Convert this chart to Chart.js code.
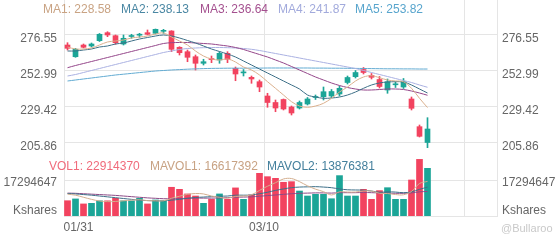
<!DOCTYPE html>
<html lang="en">
<head>
<meta charset="UTF-8" />
<title>Candles</title>
<script src="https://cdn.jsdelivr.net/npm/chart.js"></script>
<style>
  body { margin: 0; background: #fff; font-family: "Liberation Sans", Arial, sans-serif; }
  #wrap { position: relative; width: 560px; height: 240px; overflow: hidden; background: #fff; }
  canvas { position: absolute; left: 0; }
  .lg { position: absolute; font-size: 12px; line-height: 14px; white-space: nowrap; }
</style>
</head>
<body>
<div id="wrap">
  <canvas id="price" width="560" height="150" style="top:0"></canvas>
  <canvas id="vol" width="560" height="90" style="top:150px"></canvas>
  <div id="legend"></div>
  <div class="lg" style="left:501px;top:221px;color:#c9c9c9;font-size:11px">@Bullaroo</div>
</div>

<script>
  // daily candles
  const opens  = [269.54, 261.88, 269.54, 268.89, 272.36, 277.60, 275.63, 270.20, 275.11, 275.96, 277.60, 277.20, 278.51, 278.71, 268.04, 265.16, 261.88, 257.57, 260.38, 259.73, 264.11, 254.29, 251.28, 248.40, 245.52, 236.16, 231.90, 233.87, 228.96, 228.30, 230.92, 235.18, 235.70, 236.16, 237.47, 245.00, 248.80, 253.51, 249.58, 246.96, 240.09, 243.49, 242.05, 234.20, 216.07, 205.72];
  const highs  = [271.05, 267.38, 270.20, 270.85, 277.07, 278.25, 276.09, 276.09, 276.55, 277.20, 279.37, 280.02, 279.82, 278.90, 268.43, 266.27, 263.00, 260.19, 262.34, 265.16, 265.16, 255.14, 253.51, 249.25, 246.63, 237.93, 233.54, 234.20, 229.61, 232.89, 235.18, 236.82, 242.05, 240.42, 242.70, 249.25, 252.85, 254.82, 250.89, 248.93, 247.29, 245.52, 247.62, 235.51, 217.18, 221.96];
  const lows   = [266.27, 261.49, 267.58, 268.23, 271.83, 274.98, 270.00, 269.54, 273.93, 274.58, 276.09, 276.75, 277.20, 265.16, 263.00, 258.61, 253.18, 256.45, 257.96, 257.57, 257.96, 246.17, 249.25, 244.47, 238.97, 228.76, 225.88, 227.00, 223.72, 227.65, 230.27, 233.87, 233.54, 235.18, 236.16, 244.02, 247.94, 250.56, 247.29, 241.40, 237.93, 241.72, 241.07, 227.00, 209.32, 202.32];
  const closes = [267.38, 266.73, 268.04, 270.20, 276.55, 276.09, 271.05, 273.93, 275.43, 276.29, 276.55, 279.82, 278.84, 266.73, 264.50, 261.49, 257.57, 258.61, 259.99, 264.11, 260.19, 250.56, 251.67, 247.29, 242.05, 231.90, 228.30, 227.65, 225.03, 231.90, 234.20, 235.51, 238.97, 239.10, 241.20, 248.27, 251.54, 251.54, 248.40, 242.38, 245.52, 243.82, 245.52, 228.11, 209.78, 214.56];

  const ma1 = [268.23, 266.92, 266.92, 267.58, 269.54, 271.51, 272.16, 272.82, 274.13, 274.78, 275.43, 276.74, 277.40, 274.78, 272.16, 269.54, 265.62, 262.34, 260.38, 259.72, 260.38, 258.41, 255.14, 253.18, 249.91, 245.52, 241.20, 236.81, 232.43, 229.61, 228.76, 229.61, 231.38, 234.65, 238.78, 242.05, 245.98, 248.60, 249.45, 248.14, 246.63, 245.98, 245.52, 241.20, 234.65, 228.58];
  const ma2 = [265.62, 265.62, 266.27, 266.92, 268.23, 268.89, 270.20, 270.85, 272.16, 273.47, 274.45, 275.43, 276.09, 275.43, 274.13, 272.49, 270.85, 268.89, 266.92, 265.29, 263.65, 261.69, 259.07, 256.45, 253.83, 251.21, 248.60, 245.98, 243.36, 240.74, 236.81, 235.50, 234.65, 234.85, 235.50, 236.81, 238.78, 241.20, 243.36, 244.67, 245.32, 245.52, 245.32, 243.36, 240.74, 238.13];
  const ma3 = [254.68, 256.12, 257.43, 258.74, 260.05, 261.36, 262.67, 263.98, 265.29, 266.60, 267.91, 269.22, 270.53, 271.05, 271.18, 271.18, 270.85, 270.53, 270.20, 269.54, 268.89, 267.91, 266.60, 264.96, 263.32, 261.69, 259.72, 257.76, 255.47, 253.18, 250.89, 248.60, 246.63, 244.67, 243.03, 241.72, 240.74, 240.09, 240.09, 240.41, 240.74, 240.74, 240.41, 239.43, 238.12, 236.64];
  const ma4 = [249.25, 250.23, 251.54, 252.85, 254.16, 255.47, 256.78, 258.09, 259.40, 260.71, 262.02, 263.32, 264.63, 265.62, 266.60, 267.25, 267.58, 267.78, 267.91, 267.91, 267.78, 267.58, 267.25, 266.73, 265.94, 264.96, 263.98, 263.00, 262.02, 261.03, 260.05, 259.07, 258.09, 257.11, 256.12, 255.14, 254.16, 252.85, 251.54, 250.23, 248.92, 247.61, 246.30, 245.00, 243.36, 241.87];
  const ma5 = [245.98, 246.63, 247.29, 247.94, 248.60, 249.25, 249.91, 250.43, 250.95, 251.48, 252.00, 252.52, 252.85, 253.18, 253.44, 253.70, 253.90, 254.09, 254.23, 254.29, 254.36, 254.36, 254.36, 254.42, 254.42, 254.49, 254.49, 254.49, 254.49, 254.49, 254.49, 254.42, 254.42, 254.36, 254.36, 254.29, 254.23, 254.16, 254.09, 254.03, 253.96, 253.96, 253.90, 253.90, 253.82, 253.82];

  const volumes = [7350000, 8200000, 5800000, 6100000, 7300000, 7300000, 8500000, 7300000, 7300000, 8500000, 5800000, 7700000, 7300000, 13800000, 12800000, 10600000, 9600000, 6100000, 8000000, 10600000, 8000000, 13500000, 8000000, 10100000, 20500000, 18900000, 18100000, 16200000, 16500000, 12000000, 9600000, 10400000, 10400000, 8300000, 19400000, 9600000, 9600000, 12800000, 8000000, 12200000, 13600000, 8000000, 8000000, 17300000, 27200000, 22914370];
  const mavol1 = [10500000, 10000000, 9000000, 8000000, 7200000, 6900000, 7000000, 7300000, 7600000, 7800000, 7400000, 7300000, 7300000, 8500000, 9500000, 10400000, 10800000, 10600000, 9600000, 9000000, 8500000, 9400000, 9600000, 10200000, 12300000, 14300000, 16000000, 17800000, 18000000, 16500000, 14500000, 12900000, 11700000, 10100000, 11600000, 11500000, 11500000, 12000000, 12000000, 10900000, 10800000, 10300000, 10200000, 11800000, 15600000, 16617392];
  const mavol2 = [10800000, 10600000, 10300000, 10000000, 9600000, 9200000, 8800000, 8400000, 8000000, 7600000, 7400000, 7300000, 7300000, 7600000, 8000000, 8500000, 8900000, 9100000, 9300000, 9500000, 9600000, 10000000, 10000000, 10100000, 10700000, 11400000, 12300000, 13000000, 13600000, 13900000, 14000000, 14100000, 13900000, 13600000, 13000000, 12600000, 12500000, 12400000, 12000000, 11400000, 11600000, 11500000, 11200000, 11600000, 12800000, 13876381];
  const mavol3 = [11000000, 10900000, 10700000, 10500000, 10300000, 10100000, 9900000, 9600000, 9300000, 9000000, 8700000, 8500000, 8300000, 8300000, 8400000, 8500000, 8600000, 8600000, 8600000, 8700000, 8800000, 9000000, 9100000, 9200000, 9500000, 9800000, 10100000, 10400000, 10700000, 10900000, 11000000, 11100000, 11100000, 11000000, 11200000, 11200000, 11200000, 11300000, 11200000, 11100000, 11000000, 10900000, 10900000, 11100000, 11600000, 11800000];

  const priceTicks = [205.86, 229.42, 252.99, 276.55];
  const volTick = 17294647;
  const dateLabels = ["01/31", "03/10"];

  // layout bits (index units on the x axis)
  const dateTickAt = [1.375, 24.5625];
  const gridAt = [24.5625, 49.5625];
  const xMin = -0.4375, xMax = 53.6875;

  const RED = "#f2435f", GREEN = "#1ba597";
  const gridColor = "#e5e5e5";
  const none = "rgba(0,0,0,0)";
  Chart.defaults.font.family = '"Liberation Sans", Arial, sans-serif';
  Chart.defaults.font.size = 12;

  const idx = opens.map((_, i) => i);
  const candleColors = idx.map(i => closes[i] >= opens[i] ? GREEN : RED);

  function line(data, color) {
    return {
      type: "line", data: data.map((y, i) => ({ x: i, y })),
      borderColor: color, borderWidth: 1, pointRadius: 0, tension: 0.35, fill: false
    };
  }
  function bars(lo, hi, width, colors) {
    return {
      type: "bar", data: idx.map(i => ({ x: i, y: [lo[i], hi[i]] })),
      backgroundColor: colors, grouped: false, maxBarThickness: width,
      barPercentage: 1, categoryPercentage: 1, minBarLength: 1
    };
  }
  function yAxis(pos, min, max, ticks, fmt, gridFn, offset) {
    return {
      type: "linear", position: pos, min: min, max: max,
      afterBuildTicks: s => { s.ticks = ticks.map(v => ({ value: v })); },
      afterFit: s => { s.width = pos === "left" ? 64 : 63; s.paddingTop = 0; s.paddingBottom = 0; },
      grid: { display: pos === "left", color: gridFn, drawTicks: false },
      border: { display: true, color: gridColor },
      ticks: { callback: fmt, color: "#666", padding: pos === "left" ? 7 : 5, labelOffset: offset, autoSkip: false }
    };
  }
  function xAxis(showLabels, height) {
    return {
      type: "linear", min: xMin, max: xMax, offset: false, bounds: "data",
      afterBuildTicks: s => {
        s.ticks = (showLabels ? [dateTickAt[0]].concat(gridAt) : gridAt).map(v => ({ value: v }));
      },
      afterFit: s => { s.height = height; s.paddingLeft = 0; s.paddingRight = 0; },
      grid: { offset: false, color: c => (c.tick && gridAt.includes(c.tick.value)) ? gridColor : none, drawTicks: false },
      border: { display: showLabels, color: gridColor },
      ticks: {
        display: showLabels, color: "#666", padding: 4, maxRotation: 0, autoSkip: false,
        callback: v => { const k = dateTickAt.indexOf(v); return k >= 0 ? dateLabels[k] : ""; }
      }
    };
  }
  const common = {
    responsive: false, animation: false,
    layout: { padding: 0 },
    plugins: { legend: { display: false }, tooltip: { enabled: false } }
  };

  new Chart(document.getElementById("price"), {
    type: "bar",
    data: {
      datasets: [
        line(ma1, "#dbb08d"), line(ma2, "#3d6f87"), line(ma3, "#94468a"),
        line(ma4, "#aab1e2"), line(ma5, "#62abd2"),
        bars(opens, closes, 5, candleColors),
        bars(lows, highs, 1, candleColors)
      ]
    },
    options: Object.assign({}, common, {
      scales: {
        x: xAxis(false, 0),
        y: yAxis("left", 200.81, 299.0, priceTicks, v => v.toFixed(2), gridColor, 4.5),
        y2: yAxis("right", 200.81, 299.0, priceTicks, v => v.toFixed(2), gridColor, 4.5)
      }
    })
  });

  const volMax = 31706862, kTick = 3843256;
  const volFmt = v => v === volTick ? String(volTick) : "Kshares";
  const volGrid = c => (c.tick && c.tick.value === volTick) ? gridColor : none;
  new Chart(document.getElementById("vol"), {
    type: "bar",
    data: {
      datasets: [
        line(mavol1, "#d3ae8e"), line(mavol2, "#3d6f88"), line(mavol3, "#8c4a86"),
        bars(idx.map(() => 0), volumes, 6, candleColors)
      ]
    },
    options: Object.assign({}, common, {
      scales: {
        x: xAxis(true, 24),
        y: yAxis("left", 0, volMax, [kTick, volTick], volFmt, volGrid, 2.5),
        y2: yAxis("right", 0, volMax, [kTick, volTick], volFmt, volGrid, 2.5)
      }
    })
  });

  // legend rows
  const last = a => a[a.length - 1];
  const legendItems = [
    ["MA1: " + last(ma1).toFixed(2), 43, 2, "#c9a383"],
    ["MA2: " + last(ma2).toFixed(2), 121, 2, "#4a87a3"],
    ["MA3: " + last(ma3).toFixed(2), 200, 2, "#a4508f"],
    ["MA4: " + last(ma4).toFixed(2), 278, 2, "#a2aadc"],
    ["MA5: " + last(ma5).toFixed(2), 355, 2, "#58a5cd"],
    ["VOL1: " + last(volumes), 49, 159, "#f06b7b"],
    ["MAVOL1: " + last(mavol1), 150, 159, "#c8a283"],
    ["MAVOL2: " + last(mavol2), 267, 159, "#437f9c"]
  ];
  const lg = document.getElementById("legend");
  legendItems.forEach(([text, x, y, color]) => {
    const d = document.createElement("div");
    d.className = "lg";
    d.style.left = x + "px";
    d.style.top = y + "px";
    d.style.color = color;
    d.textContent = text;
    lg.appendChild(d);
  });
</script>
</body>
</html>
